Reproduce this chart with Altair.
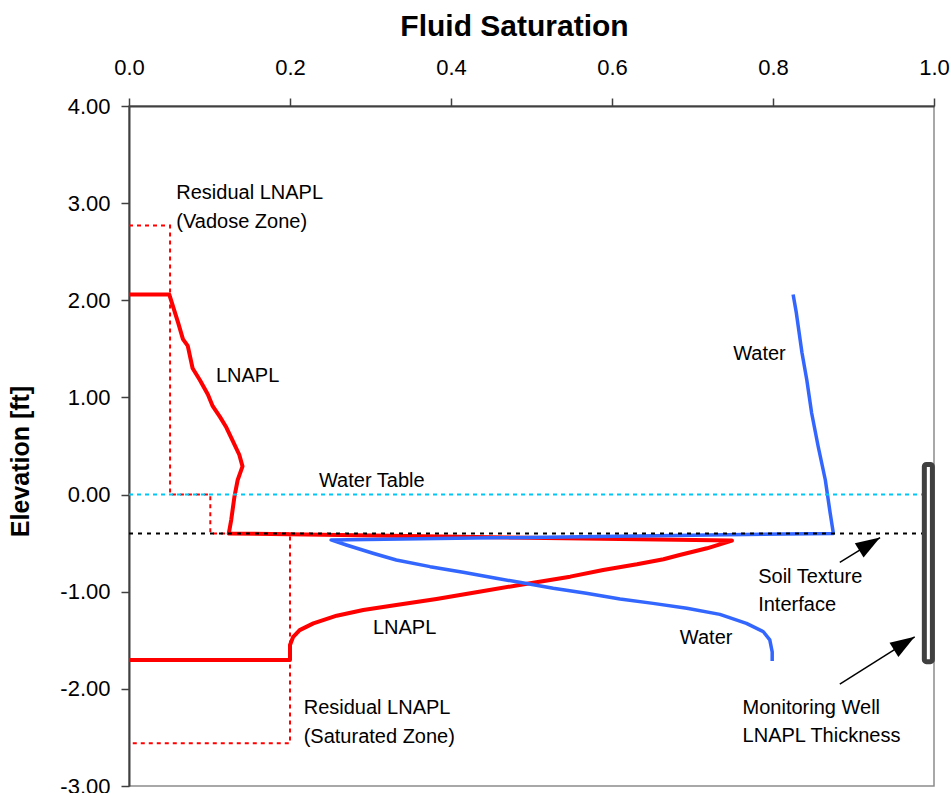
import altair as alt
import pandas as pd

# LNAPL saturation profile (solid red): vadose curve, interface jump, saturated-zone curve
lnapl_sat = [0.0, 0.05, 0.061, 0.067, 0.073, 0.079, 0.088, 0.098, 0.104, 0.113, 0.121,
             0.129, 0.137, 0.141, 0.135, 0.131, 0.127, 0.124,
             0.749, 0.718, 0.684, 0.664, 0.631, 0.589, 0.548, 0.506, 0.485, 0.435,
             0.382, 0.332, 0.291, 0.258, 0.229, 0.212, 0.204, 0.2, 0.2, 0.0]
lnapl_elev = [2.06, 2.06, 1.77, 1.60, 1.53, 1.30, 1.18, 1.03, 0.91, 0.80, 0.69,
              0.55, 0.41, 0.29, 0.15, -0.02, -0.26, -0.40,
              -0.474, -0.553, -0.622, -0.666, -0.718, -0.776, -0.845, -0.903, -0.931, -1.0,
              -1.075, -1.137, -1.189, -1.247, -1.326, -1.395, -1.464, -1.549, -1.704, -1.704]

# Water saturation profile (solid blue)
water_sat = [0.825, 0.829, 0.836, 0.842, 0.848, 0.856, 0.865, 0.871, 0.875,
             0.251, 0.270, 0.303, 0.332, 0.374, 0.415, 0.456, 0.485, 0.527, 0.568,
             0.610, 0.651, 0.693, 0.734, 0.767, 0.788, 0.796, 0.799, 0.799]
water_elev = [2.06, 1.87, 1.46, 1.18, 0.84, 0.50, 0.15, -0.19, -0.40,
              -0.467, -0.519, -0.604, -0.673, -0.742, -0.800, -0.862, -0.903, -0.965, -1.016,
              -1.075, -1.120, -1.171, -1.233, -1.326, -1.412, -1.495, -1.619, -1.714]

# Residual LNAPL saturation (dotted red), vadose and saturated zones
resid_sat = [0.0, 0.051, 0.051, 0.101, 0.101, 0.200, 0.200, 0.0]
resid_elev = [2.77, 2.77, 0.0, 0.0, -0.40, -0.40, -2.56, -2.56]

water_table_elev = 0.0
interface_elev = -0.40

# Monitoring well LNAPL thickness (top / bottom elevation)
well_top, well_bottom = 0.31, -1.72
well_x = [0.988, 0.998]

# Callout arrows: tail (x, y) -> head (x, y), head rotation in degrees
arrow_id = ["soil", "well"]
arrow_x0 = [0.883, 0.883]
arrow_y0 = [-0.697, -1.952]
arrow_x1 = [0.933, 0.976]
arrow_y1 = [-0.443, -1.464]
arrow_angle = [58.4, 57.8]

# Annotation text
label_text = ["Residual LNAPL", "(Vadose Zone)", "LNAPL", "Water", "Water Table",
              "Soil Texture", "Interface", "LNAPL", "Water",
              "Residual LNAPL", "(Saturated Zone)", "Monitoring Well", "LNAPL Thickness"]
label_x = [0.0587, 0.0587, 0.108, 0.7505, 0.236,
           0.7816, 0.7816, 0.303, 0.6843,
           0.217, 0.217, 0.7622, 0.7622]
label_y = [3.038, 2.744, 1.155, 1.389, 0.076,
           -0.913, -1.196, -1.436, -1.539,
           -2.262, -2.555, -2.261, -2.550]

FONT = "Liberation Sans"

x_scale = alt.Scale(domain=[0, 1], nice=False, zero=False)
y_scale = alt.Scale(domain=[-3, 4], nice=False, zero=False)

x_axis = alt.Axis(
    orient="top", values=[0, 0.2, 0.4, 0.6, 0.8, 1.0], format=".1f",
    title="Fluid Saturation", titleFontSize=30, titleFontWeight="bold",
    titleX=385, titleY=-71, titleBaseline="alphabetic", titleAnchor="middle", titleAlign="center",
    labelFontSize=22, labelPadding=19, labelFlush=False, labelOverlap=False, grid=False,
)
y_axis = alt.Axis(
    orient="left", values=[-3, -2, -1, 0, 1, 2, 3, 4],
    labelExpr="replace(format(datum.value, '.2f'), '\u2212', '-')",
    title="Elevation [ft]", titleFontSize=25, titleFontWeight="bold",
    titleX=-96, titleY=355, titleAnchor="middle", titleAlign="center",
    labelFontSize=22, labelPadding=11, labelFlush=False, labelOverlap=False, grid=False,
)

def profile(xs, ys):
    return pd.DataFrame({"s": xs, "e": ys, "i": range(len(xs))})

base_x = alt.X("s:Q", scale=x_scale, axis=x_axis)
base_y = alt.Y("e:Q", scale=y_scale, axis=y_axis)

resid = alt.Chart(profile(resid_sat, resid_elev)).mark_line(
    color="#ff0000", strokeWidth=2, strokeDash=[4, 4]
).encode(x=base_x, y=base_y, order="i:Q")

lnapl = alt.Chart(profile(lnapl_sat, lnapl_elev)).mark_line(
    color="#ff0000", strokeWidth=4, strokeJoin="round"
).encode(x="s:Q", y="e:Q", order="i:Q")

water = alt.Chart(profile(water_sat, water_elev)).mark_line(
    color="#3366ff", strokeWidth=3.5, strokeJoin="round"
).encode(x="s:Q", y="e:Q", order="i:Q")

wt = alt.Chart(profile([0.0, 1.0], [water_table_elev] * 2)).mark_line(
    color="#00c8f5", strokeWidth=2, strokeDash=[4, 4]
).encode(x="s:Q", y="e:Q", order="i:Q")

iface = alt.Chart(profile([0.0, 1.0], [interface_elev] * 2)).mark_line(
    color="#000000", strokeWidth=2, strokeDash=[4, 5]
).encode(x="s:Q", y="e:Q", order="i:Q")

well = alt.Chart(pd.DataFrame({"x0": [well_x[0]], "x1": [well_x[1]],
                               "y0": [well_top], "y1": [well_bottom]})).mark_rect(
    fill="#ffffff", stroke="#404040", strokeWidth=5, cornerRadius=2
).encode(x="x0:Q", x2="x1:Q", y="y0:Q", y2="y1:Q")

arrows_df = pd.DataFrame({
    "id": arrow_id * 2,
    "s": arrow_x0 + arrow_x1,
    "e": arrow_y0 + arrow_y1,
    "i": [0, 0, 1, 1],
})
arrow_lines = alt.Chart(arrows_df).mark_line(color="#000000", strokeWidth=1.5).encode(
    x="s:Q", y="e:Q", detail="id:N", order="i:Q"
)
heads_df = pd.DataFrame({"s": arrow_x1, "e": arrow_y1, "a": arrow_angle})
arrow_heads = alt.Chart(heads_df).mark_point(
    shape="M0,0L-0.34,1L0.34,1Z", filled=True, color="#000000", opacity=1,
    size=2400, strokeWidth=0
).encode(x="s:Q", y="e:Q", angle=alt.Angle("a:Q", scale=None))

labels = alt.Chart(pd.DataFrame({"t": label_text, "s": label_x, "e": label_y})).mark_text(
    align="left", baseline="alphabetic", font=FONT, fontSize=20, color="#000000"
).encode(x="s:Q", y="e:Q", text="t:N")

chart = alt.layer(
    resid, lnapl, water, wt, iface, well, arrow_lines, arrow_heads, labels
).properties(
    width=805, height=680,
    autosize=alt.AutoSizeParams(type="none"),
    padding={"left": 129, "top": 106, "right": 17, "bottom": 7},
    background="#ffffff",
).configure_view(
    stroke="#8c8c8c", strokeWidth=1.5
).configure_axis(
    labelFont=FONT, titleFont=FONT, labelColor="#000000", titleColor="#000000",
    domainColor="#404040", domainWidth=2, tickColor="#404040", tickWidth=1.5, tickSize=8,
)

chart.save("out.html", embed_options={"renderer": "svg", "actions": False})
